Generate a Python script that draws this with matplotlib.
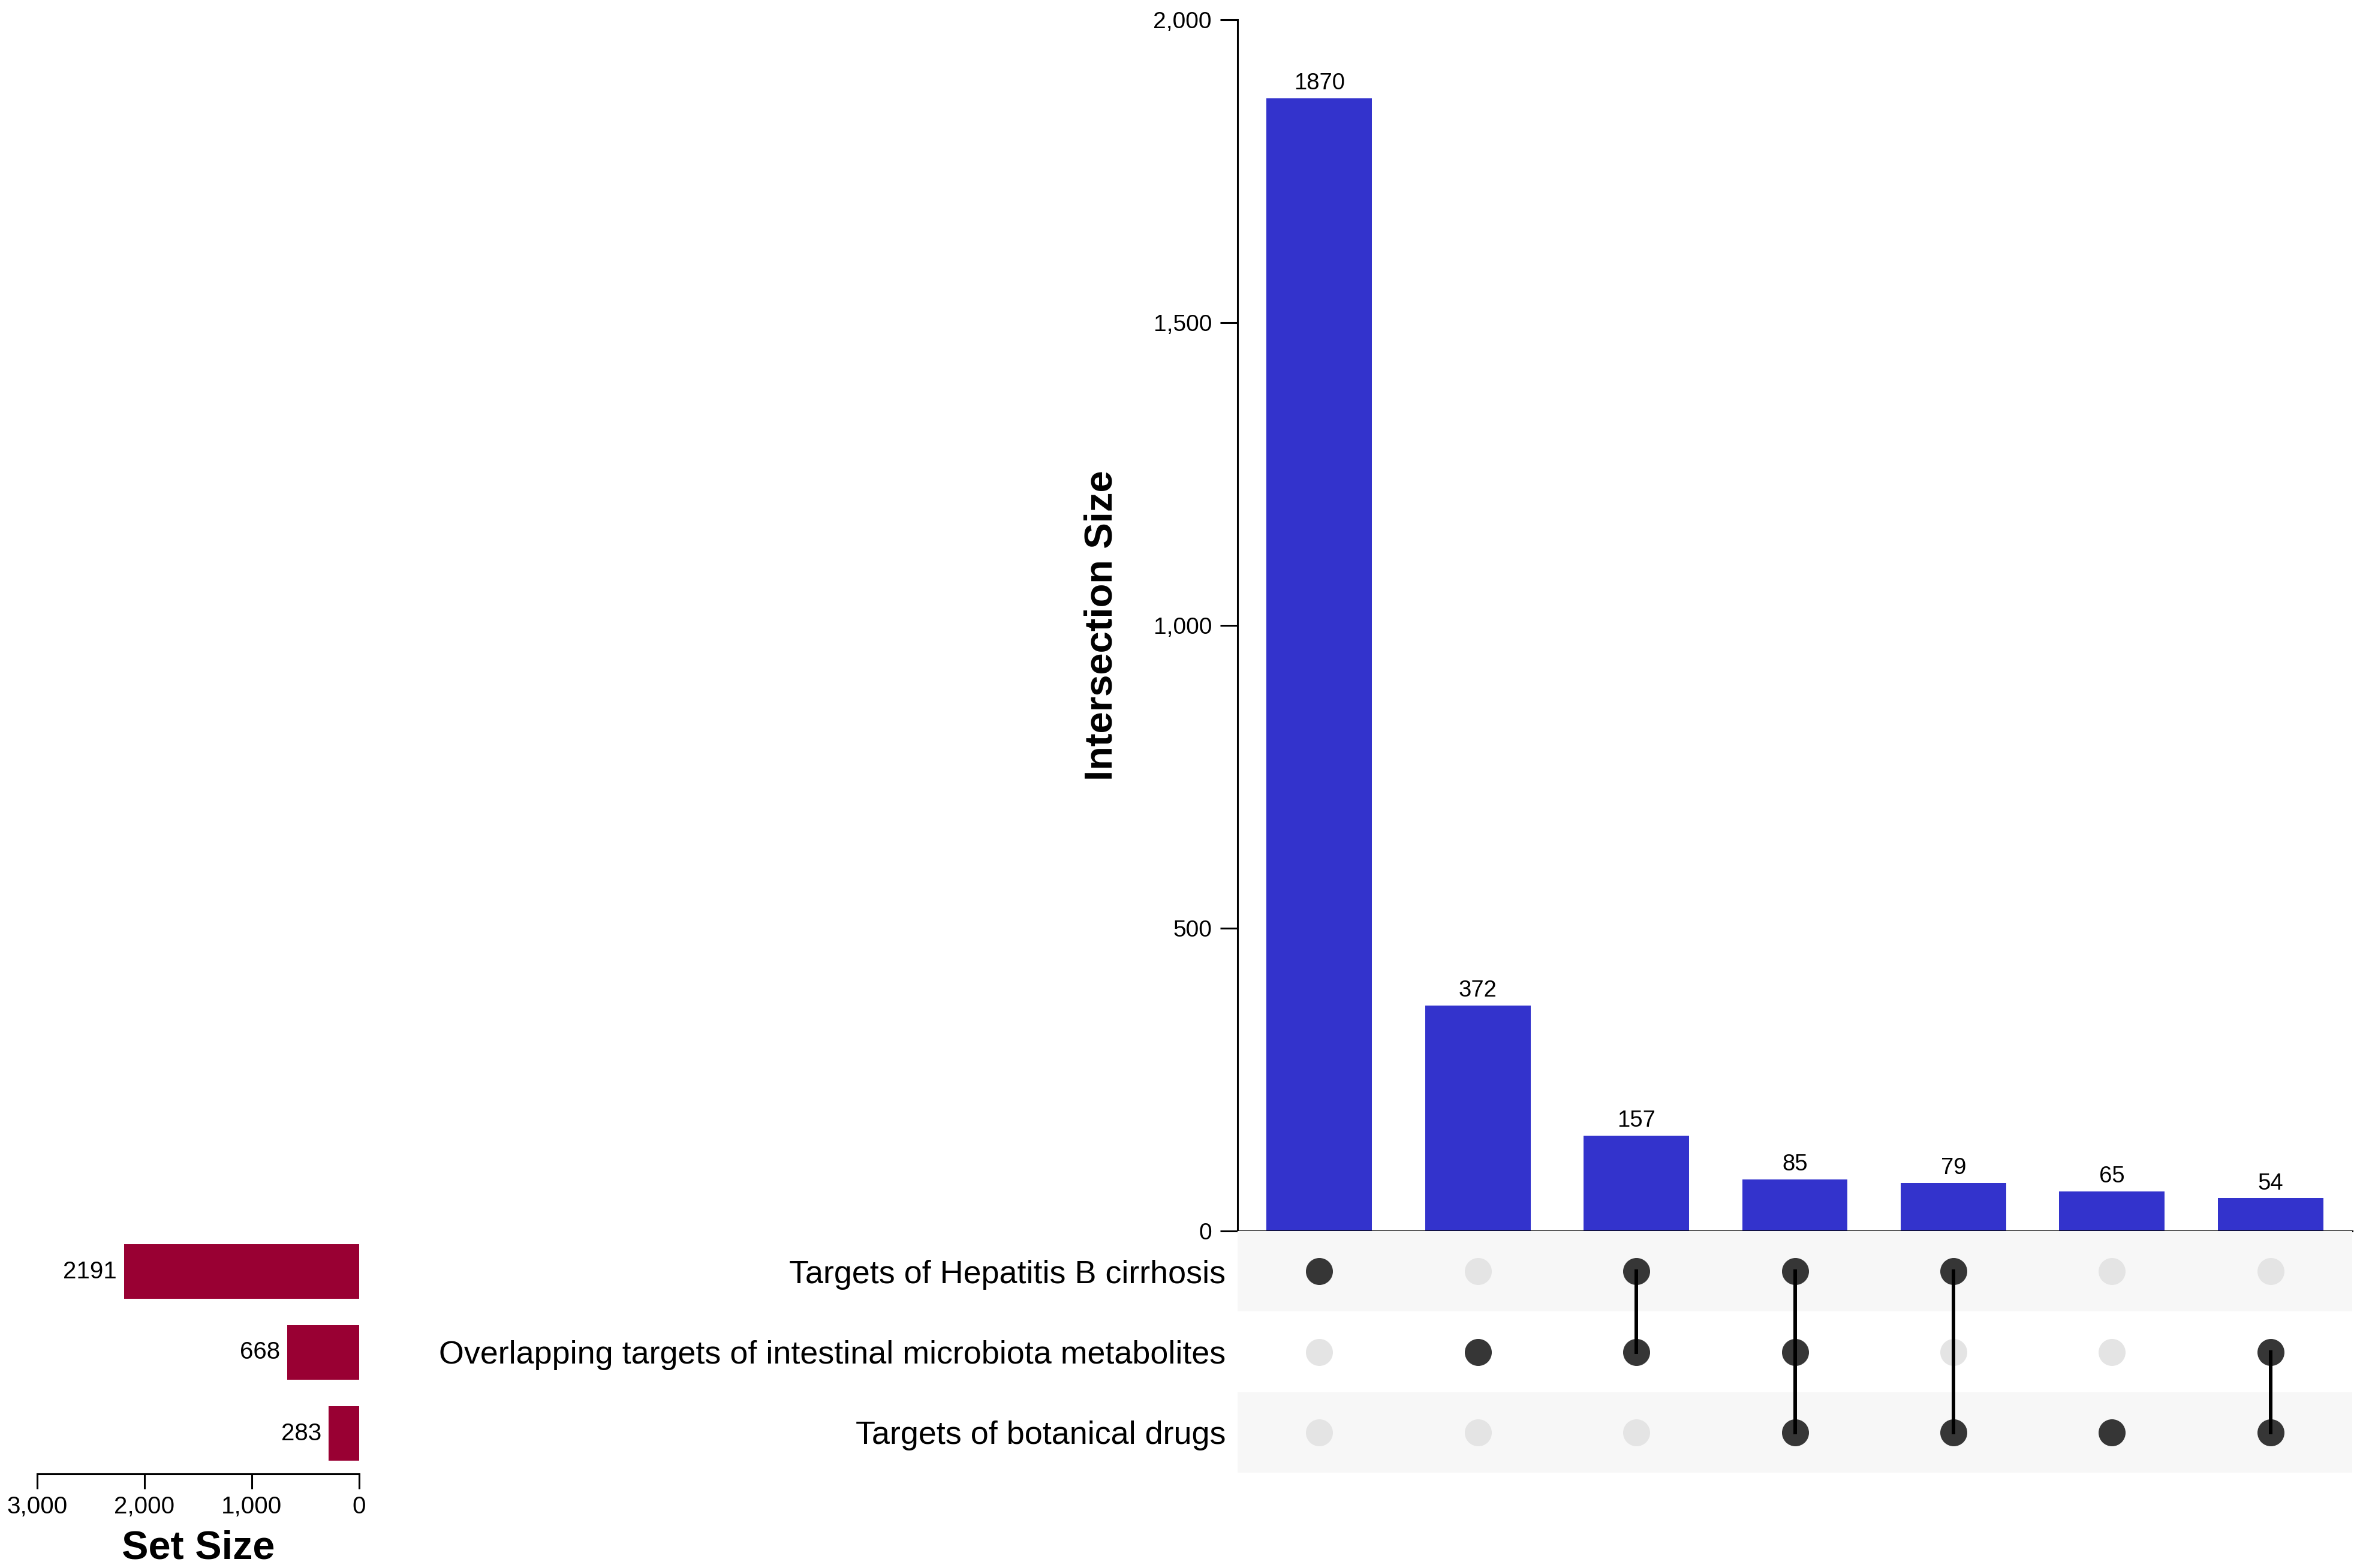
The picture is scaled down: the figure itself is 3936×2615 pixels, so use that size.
import matplotlib
matplotlib.use("Agg")
import matplotlib.pyplot as plt
from matplotlib.ticker import FuncFormatter

plt.rcParams['font.family'] = ['Liberation Sans', 'DejaVu Sans']

# --- data ---
set_names = ["Targets of Hepatitis B cirrhosis",
             "Overlapping targets of intestinal microbiota metabolites",
             "Targets of botanical drugs"]
set_sizes = [2191, 668, 283]

inter_sizes = [1870, 372, 157, 85, 79, 65, 54]
# membership per intersection column (index into set_names)
inter_members = [[0], [1], [0, 1], [0, 1, 2], [0, 2], [2], [1, 2]]

bar_color = "#3333cc"
set_color = "#990033"
dot_on = "#363636"
dot_off = "#e4e4e4"
stripe = "#f7f7f7"

W, H = 3937, 2615
fig = plt.figure(figsize=(W / 100, H / 100), dpi=100)


def box(x0, y0, x1, y1):
    # pixel box (top-left origin) -> figure fraction
    return [x0 / W, 1 - y1 / H, (x1 - x0) / W, (y1 - y0) / H]


ax_bar = fig.add_axes(box(2064, 33, 3923, 2053))
ax_mat = fig.add_axes(box(2064, 2053, 3923, 2456))
ax_set = fig.add_axes(box(62, 2053, 599, 2458))

n = len(inter_sizes)
xs = list(range(n))
xlim = (-0.515, n - 1 + 0.515)
comma = FuncFormatter(lambda v, p: f"{int(v):,}")

# --- intersection bars ---
bars = ax_bar.bar(xs, inter_sizes, width=0.665, color=bar_color)
for b, v in zip(bars, inter_sizes):
    ax_bar.annotate(str(v), (b.get_x() + b.get_width() / 2, v),
                    xytext=(0, 5), textcoords="offset points",
                    ha="center", va="bottom", fontsize=27.5)
ax_bar.set_xlim(*xlim)
ax_bar.set_ylim(0, 2000)
ax_bar.set_yticks([0, 500, 1000, 1500, 2000])
ax_bar.yaxis.set_major_formatter(comma)
ax_bar.tick_params(axis="y", length=21, width=2.2, labelsize=28, pad=10)
ax_bar.set_xticks([])
for s in ["top", "right"]:
    ax_bar.spines[s].set_visible(False)
ax_bar.spines["left"].set_linewidth(2.2)
ax_bar.spines["bottom"].set_linewidth(2.2)
ax_bar.set_ylabel("Intersection Size", fontsize=47, fontweight="bold", labelpad=40)

# --- matrix ---
nsets = len(set_names)
ax_mat.set_xlim(*xlim)
ax_mat.set_ylim(nsets - 0.5, -0.5)
for i in range(nsets):
    if i % 2 == 0:
        ax_mat.axhspan(i - 0.5, i + 0.5, color=stripe, lw=0, zorder=0)
for x, mem in zip(xs, inter_members):
    ax_mat.scatter([x] * nsets, range(nsets), s=1050, color=dot_off, lw=0, zorder=2)
    ax_mat.scatter([x] * len(mem), mem, s=1050, color=dot_on, lw=0, zorder=3)
    if len(mem) > 1:
        ax_mat.plot([x, x], [min(mem), max(mem)], color="black", lw=4.3, zorder=4)
ax_mat.set_xticks([])
ax_mat.set_yticks(range(nsets))
ax_mat.set_yticklabels(set_names, fontsize=38.8)
ax_mat.tick_params(axis="y", length=0, pad=14)
for s in ax_mat.spines.values():
    s.set_visible(False)

# --- set size bars ---
ax_set.barh(range(nsets), set_sizes, height=0.667, color=set_color)
for i, v in enumerate(set_sizes):
    ax_set.annotate(str(v), (v, i), xytext=(-9, 0), textcoords="offset points",
                    ha="right", va="center", fontsize=29)
ax_set.set_xlim(3000, 0)
ax_set.set_ylim(nsets - 0.5, -0.5)
ax_set.set_xticks([3000, 2000, 1000, 0])
ax_set.xaxis.set_major_formatter(comma)
ax_set.tick_params(axis="x", length=18, width=2.2, labelsize=29, pad=8)
ax_set.set_yticks([])
for s in ["top", "right", "left"]:
    ax_set.spines[s].set_visible(False)
ax_set.spines["bottom"].set_linewidth(2.2)
ax_set.set_xlabel("Set Size", fontsize=48, fontweight="bold", labelpad=14)

fig.savefig("out.png", dpi=100, facecolor="white")
